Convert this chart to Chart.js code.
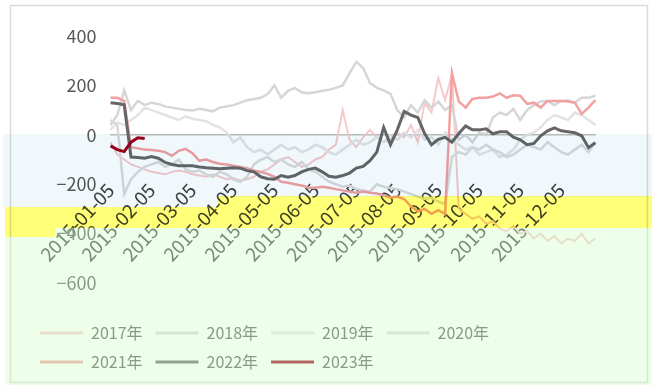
<!DOCTYPE html>
<html>
<head>
<meta charset="utf-8">
<title>季节性走势</title>
<script src="https://cdn.jsdelivr.net/npm/chart.js@4.4.0/dist/chart.umd.min.js"></script>
<style>
  html, body { margin: 0; padding: 0; background: #fff; }
  #wrap { width: 656px; height: 385px; }
</style>
</head>
<body>
<div id="wrap"><canvas id="season-chart" width="656" height="385"></canvas></div>
<script>
// date grid: every five days through the year
const months = ["01", "02", "03", "04", "05", "06", "07", "08", "09", "10", "11", "12"];
const days = ["05", "10", "15", "20", "25", "30"];
const dates = months.flatMap(m => days.map(d => `2015-${m}-${m === "02" && d === "30" ? "28" : d}`));

const years = ["2017年", "2018年", "2019年", "2020年", "2021年", "2022年", "2023年"];

const s2017 = [-30, -80, -100, -120, -130, -140, -150, -155, -160, -150, -145, -150,
  -160, -165, -170, -160, -170, -180, -175, -185, -180, -170, -150, -140,
  -120, -100, -90, -110, -130, -120, -100, -90, -60, -40, 100, -20,
  -50, -10, 20, -10, -30, -20, 10, -10, 40, -30, 130, 90,
  230, 140, 245, -300, -320, -340, -330, -360, -350, -380, -390, -370,
  -400, -390, -420, -400, -430, -410, -440, -420, -430, -400, -440, -420];
const s2018 = [40, 80, 180, 100, 137, 120, 130, 125, 115, 110, 105, 100,
  98, 105, 100, 95, 110, 115, 120, 130, 140, 145, 150, 165,
  200, 150, 178, 190, 172, 168, 172, 178, 182, 190, 200, 250,
  295, 270, 210, 190, 180, 166, 100, 70, 120, 90, 140, 110,
  135, 100, 120, -20, 0, -30, 10, 0, 70, 90, 80, 105,
  60, 100, 120, 135, 137, 120, 137, 140, 130, 150, 150, 158];
const s2019 = [20, 50, 40, 60, 80, 110, 100, 90, 80, 70, 60, 75,
  65, 60, 55, 40, 30, 10, -30, -10, -50, -70, -60, -80,
  -60, -40, -60, -50, -70, -60, -40, -50, -70, -80, -60, -40,
  -20, -40, -30, -10, -30, 0, -20, 10, -10, 20, -20, -10,
  -40, 10, -20, -40, -60, -50, -80, -70, -60, -90, -80, -60,
  -20, 0, 10, 30, 60, 80, 70, 60, 90, 80, 60, 40];
const s2020 = [60, 40, -240, -180, -150, -130, -120, -110, -130, -120, -100, -140,
  -150, -145, -160, -170, -150, -160, -180, -190, -170, -120, -100, -90,
  -110, -100, -120, -130, -110, -140, -150, -170, -190, -200, -210, -205,
  -220, -225, -230, -200, -210, -215, -220, -230, -240, -250, -260, -255,
  -270, -280, -90, -70, -80, -50, -60, -40, -60, -70, -90, -80,
  -60, -40, -50, -60, -30, -50, -70, -80, -60, -40, -70, -30];
const s2021 = [150, 150, 137, -50, -55, -60, -62, -65, -70, -85, -65, -57,
  -75, -105, -100, -110, -117, -120, -125, -130, -135, -145, -150, -158,
  -170, -190, -194, -200, -205, -214, -214, -210, -214, -220, -225, -230,
  -235, -230, -235, -238, -245, -255, -250, -260, -290, -310, -300, -320,
  -305, -320, 250, 135, 110, 145, 150, 150, 155, 168, 150, 160,
  158, 125, 130, 110, 137, 137, 137, 135, 130, 85, 110, 140];
const s2022 = [130, 127, 122, -90, -92, -95, -88, -95, -112, -120, -125, -125,
  -125, -130, -133, -135, -137, -135, -133, -135, -145, -150, -170, -178,
  -180, -165, -172, -165, -150, -140, -135, -150, -168, -172, -165, -155,
  -135, -128, -105, -70, 30, -40, 20, 95, 80, 70, 5, -40,
  -18, -10, -30, 5, 36, 20, 20, 24, 4, 12, 12, -10,
  -20, -40, -35, -4, 16, 28, 16, 12, 8, -4, -52, -32];
const s2023 = [-45, -60, -68, -30, -12, -15];

const seriesData = [s2017, s2018, s2019, s2020, s2021, s2022, s2023];
const lineColors = ["#f6c9c9", "#d6d6d6", "#e3e3e3", "#dadada", "#f2a0a0", "#666666", "#9e001c"];
const lineWidths = [2, 2.5, 2.5, 2.5, 2.5, 3, 3];
const drawOrder = [7, 6, 5, 4, 3, 2, 1];

Chart.defaults.font.family = "'Noto Sans CJK SC', 'Liberation Sans', sans-serif";

// page background, outer frame and the tinted bands over the lower part
const canvasDecor = {
    id: "canvasDecor",
    beforeDraw(chart) {
        const { ctx, width, height } = chart;
        ctx.save();
        ctx.fillStyle = "#ffffff";
        ctx.fillRect(0, 0, width, height);
        ctx.strokeStyle = "#d9d9d9";
        ctx.lineWidth = 1.5;
        ctx.strokeRect(10.5, 5.5, 637, 377);
        ctx.restore();
    },
    afterDraw(chart) {
        const ctx = chart.ctx;
        ctx.save();
        ctx.globalCompositeOperation = "multiply";
        ctx.fillStyle = "rgb(240, 248, 252)";
        ctx.fillRect(3, 134, 649, 63);
        ctx.fillRect(3, 197, 214, 10);
        ctx.fillStyle = "rgb(255, 255, 120)";
        ctx.fillRect(5, 207, 212, 21);
        ctx.fillRect(217, 196, 435, 32);
        ctx.fillRect(5, 228, 50, 9);
        ctx.globalCompositeOperation = "source-over";
        ctx.fillStyle = "rgba(210, 255, 200, 0.4)";
        ctx.fillRect(55, 228, 597, 157);
        ctx.fillRect(5, 237, 50, 148);
        ctx.restore();
    },
};

const ctx = document.getElementById("season-chart").getContext("2d");

new Chart(ctx, {
    type: "line",
    data: {
        labels: dates,
        datasets: years.map((year, i) => ({
            label: year,
            data: seriesData[i],
            borderColor: lineColors[i],
            backgroundColor: lineColors[i],
            borderWidth: lineWidths[i],
            order: drawOrder[i],
            pointRadius: 0,
            tension: 0,
            fill: false,
        })),
    },
    options: {
        responsive: false,
        animation: false,
        layout: {
            padding: { left: 27, right: 38, top: 36, bottom: 5 },
        },
        scales: {
            x: {
                type: "category",
                position: { y: 0 },
                grid: { display: false, drawTicks: false },
                border: { display: true, color: "#bfbfbf", width: 1.5 },
                ticks: {
                    autoSkip: false,
                    minRotation: 47,
                    maxRotation: 47,
                    padding: 44,
                    color: "#404040",
                    font: { size: 19 },
                    callback(value) {
                        const label = this.getLabelForValue(value);
                        return label.endsWith("-05") ? label : "";
                    },
                },
            },
            y: {
                min: -600,
                max: 400,
                grid: { display: false, drawTicks: false },
                border: { display: false },
                ticks: {
                    stepSize: 200,
                    padding: 14,
                    color: "#595959",
                    font: { size: 18 },
                    callback: v => (v < 0 ? "−" + Math.abs(v) : String(v)),
                },
                afterFit(scale) {
                    scale.width = 70;
                },
            },
        },
        plugins: {
            tooltip: { enabled: false },
            legend: {
                position: "bottom",
                align: "start",
                title: {
                    display: true,
                    text: "",
                    font: { size: 10, lineHeight: 1 },
                    padding: { top: 19, bottom: 0 },
                },
                labels: {
                    boxWidth: 43,
                    boxHeight: 3,
                    padding: 13,
                    color: "#595959",
                    font: { size: 16 },
                    generateLabels(chart) {
                        const items = Chart.defaults.plugins.legend.labels.generateLabels(chart)
                            .sort((a, b) => a.datasetIndex - b.datasetIndex);
                        items.forEach(item => { item.lineWidth = 0; });
                        // empty slot so the first row holds four years
                        items.splice(4, 0, {
                            text: "",
                            fillStyle: "rgba(0,0,0,0)",
                            strokeStyle: "rgba(0,0,0,0)",
                            lineWidth: 0,
                            hidden: false,
                        });
                        return items;
                    },
                },
            },
        },
    },
    plugins: [canvasDecor],
});
</script>
</body>
</html>
